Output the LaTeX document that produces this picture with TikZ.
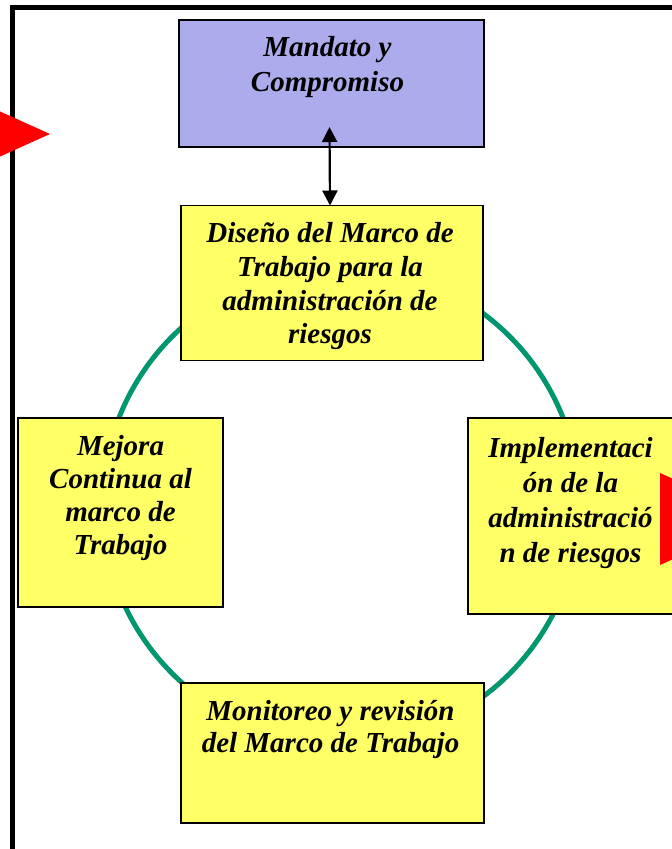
\documentclass[tikz,border=0pt]{standalone}
\usepackage{fontspec}
\setmainfont{Liberation Serif}
\usetikzlibrary{arrows.meta}
\definecolor{boxyellow}{RGB}{255,255,102}
\definecolor{boxpurple}{RGB}{172,172,236}
\definecolor{ringgreen}{RGB}{0,150,110}
\definecolor{markred}{RGB}{255,0,0}
\newcommand{\firstline}{\rule{0pt}{22pt}}
\begin{document}
\begin{tikzpicture}[x=1pt,y=-1pt,
  panel/.style={draw=black,line width=1.5pt,fill=boxyellow,inner sep=0pt,outer sep=0pt},
  lbl/.style={inner sep=0pt,align=center,anchor=north,font=\fontsize{29}{#1}\selectfont\bfseries\itshape},
  lbl/.default=33]
\useasboundingbox (0,0) rectangle (672,849);
\clip (0,0) rectangle (672,849);
% outer frame
\draw[line width=5pt] (12.5,7.5) rectangle (700,880);
% ring
\draw[ringgreen,line width=5pt] (341,505) circle[radius=238.5pt];
% boxes
\node[panel,fill=boxpurple,minimum width=305pt,minimum height=127pt] (mandato) at (331.5,83.5) {};
\node[panel,minimum width=302pt,minimum height=155pt] (diseno) at (332,283) {};
\node[panel,minimum width=205pt,minimum height=189pt] (mejora) at (120.5,512.5) {};
\node[panel,minimum width=205pt,minimum height=196pt] (implem) at (570.5,516) {};
\node[panel,minimum width=303pt,minimum height=140pt] (monitoreo) at (332.5,753) {};
% texts
\node[lbl=35] (mandatotxt) at ([xshift=-4pt,yshift=-14pt]mandato.north) {\firstline Mandato y\\Compromiso};
\node[lbl=33.7] (disenotxt) at ([xshift=-2pt,yshift=-15pt]diseno.north) {\firstline Diseño del Marco de\\Trabajo para la\\administración de\\riesgos};
\node[lbl=33] (mejoratxt) at ([yshift=-15pt]mejora.north) {\firstline Mejora\\Continua al\\marco de\\Trabajo};
\node[lbl=35] (implemtxt) at ([xshift=0pt,yshift=-17pt]implem.north) {\firstline Implementaci\\ón de la\\administració\\n de riesgos};
\node[lbl=32.5] (monitoreotxt) at ([xshift=-2pt,yshift=-15pt]monitoreo.north) {\firstline Monitoreo y revisión\\del Marco de Trabajo};
% double arrow
\coordinate (arrtop) at ([xshift=-2pt,yshift=20pt]mandato.south);
\coordinate (arrbot) at ([xshift=-2pt]diseno.north);
\draw[line width=2.2pt,{Triangle[width=15pt,length=15pt]}-{Triangle[width=15pt,length=15pt]}] (arrtop) -- (arrbot);
% red markers
\fill[markred] (-52,88) -- (50,134) -- (-52,180) -- cycle;
\fill[markred] (660,473) -- (762,519) -- (660,565) -- cycle;
\end{tikzpicture}
\end{document}
